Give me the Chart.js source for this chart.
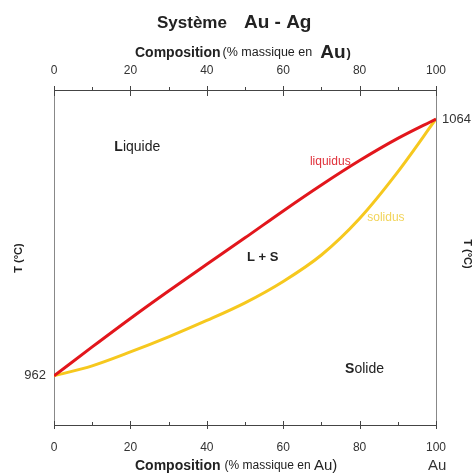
<!DOCTYPE html>
<html>
<head>
<meta charset="utf-8">
<script src="https://cdn.jsdelivr.net/npm/chart.js@4/dist/chart.umd.min.js"></script>
<style>
  html, body { margin: 0; padding: 0; background: #fff; }
  #wrap { width: 473px; height: 475px; }
</style>
</head>
<body>
<div id="wrap"><canvas id="chart"></canvas></div>
<script>
// composition (% massique Au) and temperature (°C)
const liquidusComp = [0, 10, 20, 30, 40, 50, 60, 70, 80, 90, 100];
const liquidusT = [962, 973.5, 984.8, 995.7, 1006.3, 1016.8, 1027.5, 1037.8, 1047.5, 1056.3, 1064];
const solidusComp = [0, 10, 20, 30, 40, 50, 60, 70, 80, 90, 100];
const solidusT = [962, 966, 971.5, 977.5, 984, 991, 999.5, 1010, 1024.5, 1043, 1064];
const leftTicks = [962];
const rightTicks = [1064];
const FONT = "'Liberation Sans', Arial, sans-serif";

const toPoints = (xs, ys) => xs.map((x, i) => ({ x: x, y: ys[i] }));

// tick marks that cross the top and bottom axes
const tickMarks = {
  id: "tickMarks",
  afterDraw(chart) {
    const ctx = chart.ctx;
    const area = chart.chartArea;
    const sx = chart.scales.x;
    ctx.save();
    ctx.strokeStyle = "#444";
    ctx.lineWidth = 1;
    for (let v = 0; v <= 100; v += 10) {
      const px = Math.round(sx.getPixelForValue(v)) + 0.5;
      const major = v % 20 === 0;
      ctx.beginPath();
      if (major) {
        ctx.moveTo(px, area.top - 4);
        ctx.lineTo(px, area.top + 6);
        ctx.moveTo(px, area.bottom - 4);
        ctx.lineTo(px, area.bottom + 4);
      } else {
        ctx.moveTo(px, area.top - 3);
        ctx.lineTo(px, area.top);
        ctx.moveTo(px, area.bottom - 3);
        ctx.lineTo(px, area.bottom);
      }
      ctx.stroke();
    }
    ctx.restore();
  },
};

// titles and region labels
const labels = {
  id: "labels",
  afterDraw(chart) {
    const ctx = chart.ctx;
    const sx = chart.scales.x;
    const sy = chart.scales.y;
    ctx.save();
    ctx.textBaseline = "middle";
    ctx.textAlign = "left";

    const runs = (x, y, parts) => {
      parts.forEach((p) => {
        ctx.font = p.font;
        ctx.fillStyle = p.color || "#222";
        ctx.fillText(p.text, x, y);
        x += ctx.measureText(p.text).width + (p.gap || 0);
      });
    };

    runs(157, 23, [
      { text: "Système", font: "bold 17px " + FONT, gap: 17 },
      { text: "Au - Ag", font: "bold 19px " + FONT },
    ]);
    runs(135, 53, [
      { text: "Composition", font: "bold 14px " + FONT, gap: 2 },
      { text: "(% massique en", font: "12.5px " + FONT, gap: 8 },
      { text: "Au", font: "bold 19px " + FONT, gap: 1 },
      { text: ")", font: "bold 13px " + FONT },
    ]);
    runs(135, 466, [
      { text: "Composition", font: "bold 14px " + FONT, gap: 4 },
      { text: "(% massique en ", font: "12px " + FONT },
      { text: "Au)", font: "15px " + FONT },
    ]);
    ctx.font = "15px " + FONT;
    ctx.fillStyle = "#333";
    ctx.fillText("Au", 428, 466);

    // axis titles
    ctx.font = "bold 11px " + FONT;
    ctx.fillStyle = "#222";
    ctx.textAlign = "center";
    ctx.save();
    ctx.translate(19, 258);
    ctx.rotate(-Math.PI / 2);
    ctx.fillText("T (°C)", 0, 0);
    ctx.restore();
    ctx.save();
    ctx.translate(467, 254);
    ctx.rotate(Math.PI / 2);
    ctx.fillText("T (°C)", 0, 0);
    ctx.restore();

    // regions
    ctx.textAlign = "left";
    const at = (c, t) => [sx.getPixelForValue(c), sy.getPixelForValue(t)];
    let p = at(15.8, 1052.9);
    runs(p[0], p[1], [
      { text: "L", font: "bold 14px " + FONT },
      { text: "iquide", font: "14px " + FONT },
    ]);
    p = at(50.5, 1009);
    runs(p[0], p[1], [{ text: "L + S", font: "bold 13px " + FONT }]);
    p = at(76.2, 964.5);
    runs(p[0], p[1], [
      { text: "S", font: "bold 14px " + FONT },
      { text: "olide", font: "14px " + FONT },
    ]);
    p = at(67, 1047);
    runs(p[0], p[1], [{ text: "liquidus", font: "12px " + FONT, color: "#e0303a" }]);
    p = at(82, 1025);
    runs(p[0], p[1], [{ text: "solidus", font: "12px " + FONT, color: "#f2d45a" }]);
    ctx.restore();
  },
};

const xAxis = (pos, size, pad) => ({
  type: "linear",
  position: pos,
  min: 0,
  max: 100,
  afterFit: (s) => { s.height = size; },
  ticks: { stepSize: 20, padding: pad, color: "#333", font: { family: FONT, size: 12 } },
  grid: { display: false, drawTicks: false },
  border: { display: true, color: "#444", width: 1 },
});

const yAxis = (pos, size, pad, ticks) => ({
  type: "linear",
  position: pos,
  min: 942.5,
  max: 1075.5,
  afterFit: (s) => { s.width = size; },
  afterBuildTicks: (s) => { s.ticks = ticks.map((v) => ({ value: v })); },
  ticks: {
    padding: pad,
    color: "#333",
    font: { family: FONT, size: 13 },
    callback: (v) => String(v),
  },
  grid: { display: false, drawTicks: false },
  border: { display: true, color: "#888", width: 1 },
});

new Chart(document.getElementById("chart"), {
  type: "scatter",
  data: {
    datasets: [
      {
        label: "liquidus",
        data: toPoints(liquidusComp, liquidusT),
        showLine: true,
        borderColor: "#e2161c",
        borderWidth: 3,
        pointRadius: 0,
        cubicInterpolationMode: "monotone",
        yAxisID: "y",
      },
      {
        label: "solidus",
        data: toPoints(solidusComp, solidusT),
        showLine: true,
        borderColor: "#f6c81e",
        borderWidth: 3,
        pointRadius: 0,
        cubicInterpolationMode: "monotone",
        yAxisID: "y",
      },
    ],
  },
  options: {
    responsive: true,
    maintainAspectRatio: false,
    animation: false,
    layout: { padding: 0 },
    plugins: { legend: { display: false }, tooltip: { enabled: false } },
    scales: {
      x: xAxis("bottom", 50, 15),
      x2: xAxis("top", 90, 12),
      y: yAxis("left", 54, 8, leftTicks),
      y2: yAxis("right", 37, 6, rightTicks),
    },
  },
  plugins: [tickMarks, labels],
});
</script>
</body>
</html>
